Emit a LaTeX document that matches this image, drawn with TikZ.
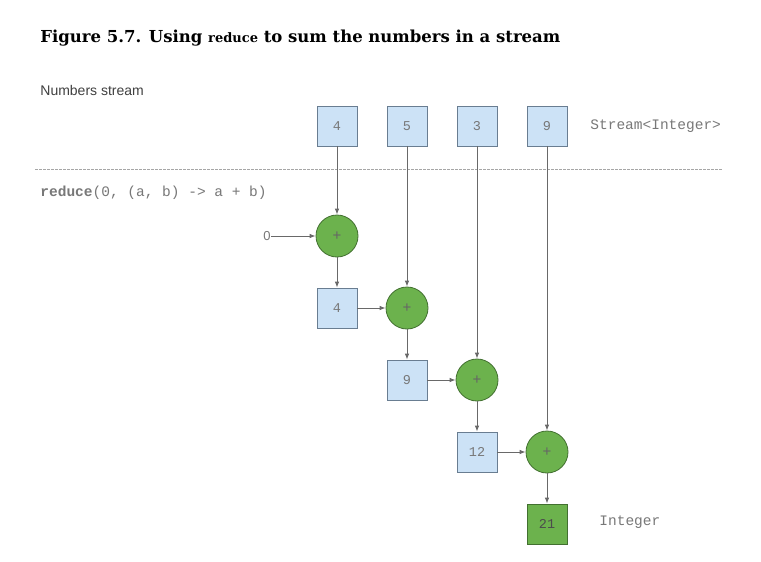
\documentclass[tikz,border=0pt]{standalone}
\usepackage{fontspec}
\setmainfont{Liberation Serif}
\setsansfont{Liberation Sans}
\setmonofont{Liberation Mono}
\newfontfamily\headfont{DejaVu Serif}
\usetikzlibrary{arrows.meta}
\usetikzlibrary{positioning}
\definecolor{boxblue}{RGB}{204,226,246}
\definecolor{boxedge}{RGB}{105,125,145}
\definecolor{opgreen}{RGB}{108,178,77}
\definecolor{opedge}{RGB}{66,112,48}
\definecolor{wire}{RGB}{105,105,105}
\definecolor{codegray}{RGB}{120,120,120}
\tikzset{
	x=1pt, y=1pt,
	node distance=72pt and 70pt,
	every path/.style = {draw=wire, line width=0.8pt},
	elem/.style = {draw=boxedge, fill=boxblue, minimum size=40pt, inner sep=0pt,
		text=codegray, font=\ttfamily\fontsize{13.5}{13.5}\selectfont},
	total/.style = {elem, draw=opedge, fill=opgreen, text=black!70},
	op/.style = {draw=opedge, fill=opgreen, circle, minimum size=42pt, inner sep=0pt,
		text=black!60, font=\sffamily\fontsize{15}{15}\selectfont},
	code/.style = {text=codegray, inner sep=0pt, font=\ttfamily\fontsize{14.5}{14.5}\selectfont}
}

\begin{document}
\begin{tikzpicture}[-{Latex[length=6pt,width=4.5pt]}, on grid]
	\useasboundingbox[fill=white, draw=none] (0,0) rectangle (761,-562);
	% headings
	\node (title) [anchor=base west, inner sep=0pt, font=\headfont\bfseries\fontsize{16.5}{17}\selectfont]
		at (40,-42) {Figure 5.7. Using {\fontsize{13}{13}\selectfont reduce} to sum the numbers in a stream};
	\node (numlbl) [anchor=west, inner sep=0pt, text=black!75, font=\sffamily\fontsize{14}{14}\selectfont]
		at (40,-90) {Numbers stream};
	\node (reducelbl) [code, anchor=west] at (40,-193) {\textbf{reduce}(0, (a, b) -> a + b)};
	\draw[-, draw=black!35, line width=0.9pt, dash pattern=on 2.5pt off 1.5pt] (35,-169) -- (722,-169);
	% stream elements
	\node (n4) [elem] at (337,-126) {4};
	\node (n5) [elem, right=of n4] {5};
	\node (n3) [elem, right=of n5] {3};
	\node (n9) [elem, right=of n3] {9};
	\node (streamlbl) [code, anchor=west] at (590,-126) {Stream<Integer>};
	% reduction steps
	\node (p1) [op, below=110pt of n4] {+};
	\node (zero) [code, left=70pt of p1, font=\sffamily\fontsize{13}{13}\selectfont] {0};
	\node (s4) [elem, below=of p1] {4};
	\node (p2) [op, right=of s4] {+};
	\node (s9) [elem, below=of p2] {9};
	\node (p3) [op, right=of s9] {+};
	\node (s12) [elem, below=of p3] {12};
	\node (p4) [op, right=of s12] {+};
	\node (r21) [total, below=of p4] {21};
	\node (intlbl) [code, anchor=west] at (599,-522) {Integer};
	% connections
	\draw (n4) -- (p1);
	\draw (n5) -- (p2);
	\draw (n3) -- (p3);
	\draw (n9) -- (p4);
	\draw (zero) -- (p1);
	\draw (p1) -- (s4);
	\draw (s4) -- (p2);
	\draw (p2) -- (s9);
	\draw (s9) -- (p3);
	\draw (p3) -- (s12);
	\draw (s12) -- (p4);
	\draw (p4) -- (r21);
\end{tikzpicture}
\end{document}
